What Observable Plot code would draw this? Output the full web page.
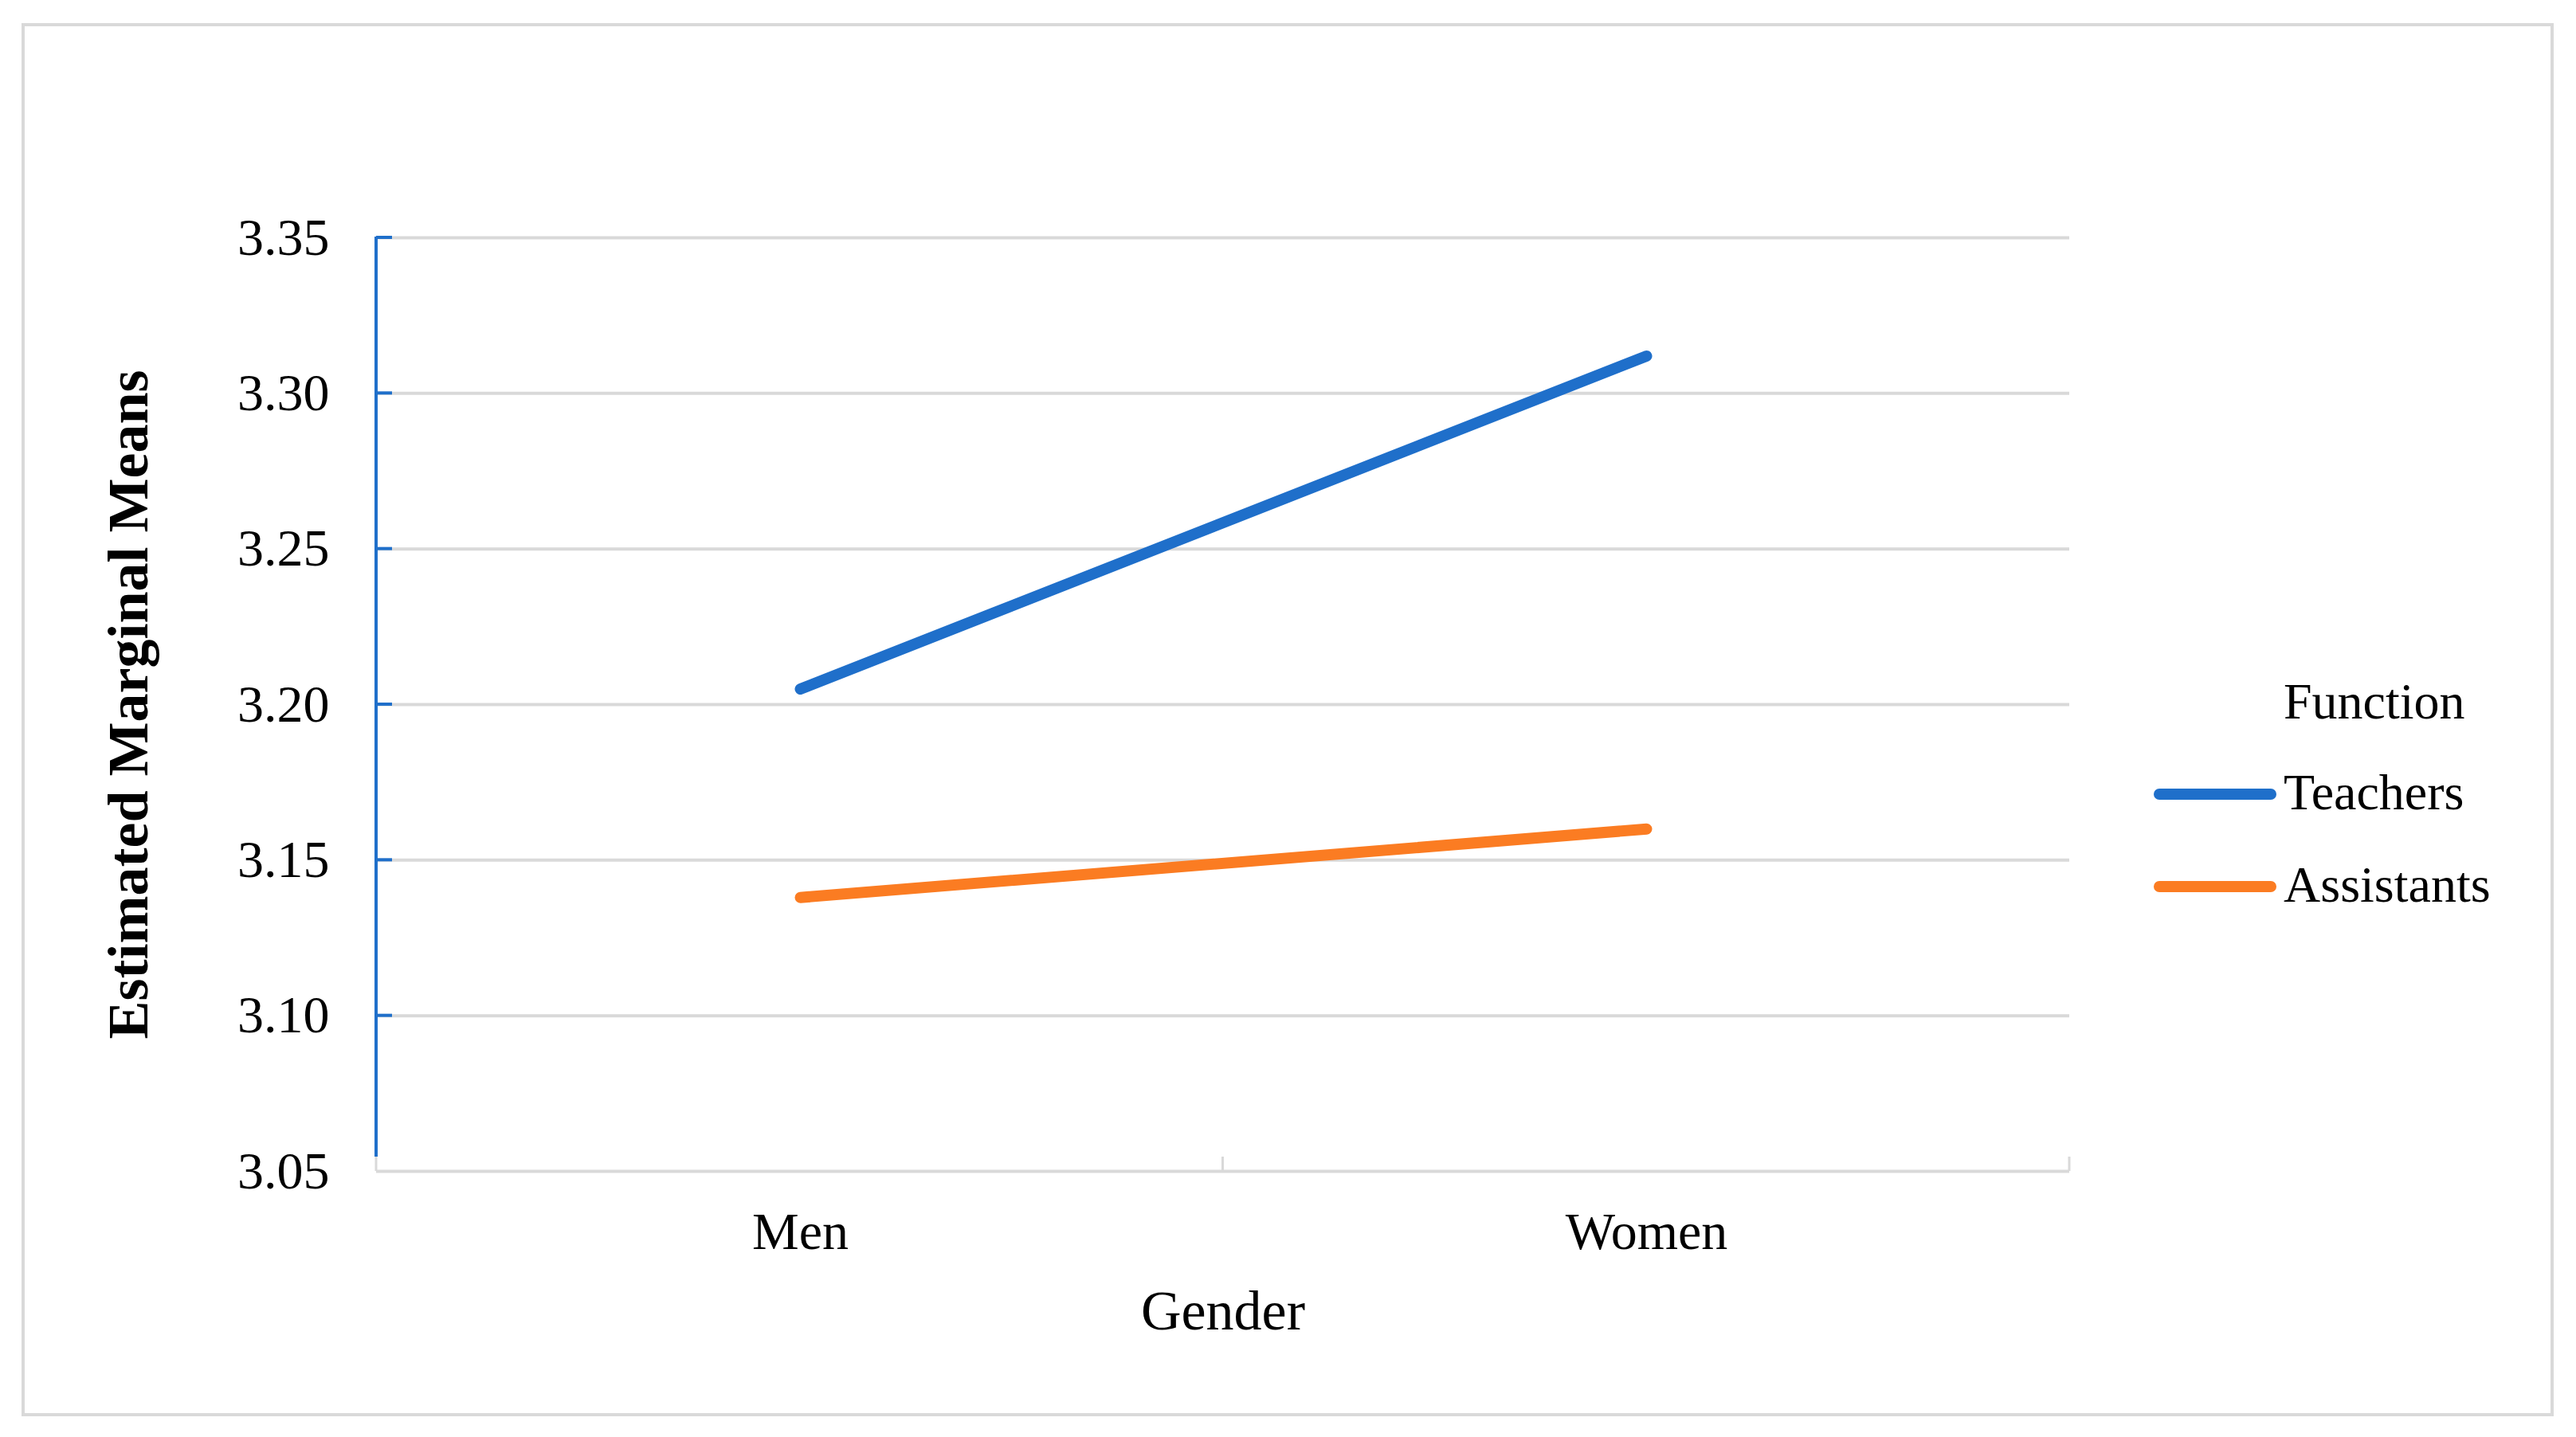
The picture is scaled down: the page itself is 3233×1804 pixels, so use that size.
<!DOCTYPE html>
<html>
<head>
<meta charset="utf-8">
<script src="https://cdn.jsdelivr.net/npm/d3@7"></script>
<script src="https://cdn.jsdelivr.net/npm/@observablehq/plot@0.6"></script>
<style>
  html, body { margin: 0; padding: 0; background: #fff; }
  #wrap { position: relative; width: 3233px; height: 1804px; background: #fff; overflow: hidden; }
  #border { position: absolute; left: 27px; top: 29px; width: 3178px; height: 1749px; box-sizing: border-box; border: 4px solid #d9d9d9; }
  #chart { position: absolute; left: 0; top: 0; }
  #legend { position: absolute; left: 0; top: 0; pointer-events: none; }
</style>
</head>
<body>
<div id="wrap">
  <div id="border"></div>
  <div id="chart"></div>
  <svg id="legend" width="3233" height="1804"></svg>
</div>
<script>
// ---- data ----
const genders = ["Men", "Women"];
const seriesNames = ["Teachers", "Assistants"];
const teachers = [3.205, 3.312];
const assistants = [3.138, 3.160];
const yTicks = [3.05, 3.10, 3.15, 3.20, 3.25, 3.30, 3.35];
const colors = ["#1f6fca", "#fb7c22"];
const xTitle = "Gender";
const yTitle = "Estimated Marginal Means";
const legendTitle = "Function";

const rows = [];
[teachers, assistants].forEach((vals, s) => {
  genders.forEach((g, i) => rows.push({gender: g, series: seriesNames[s], value: vals[i]}));
});

const FONT = "'Liberation Serif', 'Times New Roman', serif";
const GRID = "#d9d9d9";

// decorations drawn from the scales: blue y axis line with inward ticks, x-axis band-edge ticks
function decor(index, scales, values, dims) {
  const g = d3.create("svg:g");
  const x0 = dims.marginLeft, x1 = dims.width - dims.marginRight;
  const yt = dims.marginTop, yb = dims.height - dims.marginBottom;
  const n = genders.length;
  for (let k = 0; k <= n; k++) {
    const x = x0 + k * (x1 - x0) / n;
    g.append("line").attr("x1", x).attr("x2", x).attr("y1", yb - 18).attr("y2", yb)
      .attr("stroke", GRID).attr("stroke-width", 3);
  }
  g.append("line").attr("x1", x0).attr("x2", x0).attr("y1", yt - 1).attr("y2", yb - 18)
    .attr("stroke", colors[0]).attr("stroke-width", 4);
  yTicks.forEach(v => {
    const y = scales.y(v);
    if (Math.abs(y - yb) < 1) return;
    g.append("line").attr("x1", x0).attr("x2", x0 + 20).attr("y1", y).attr("y2", y)
      .attr("stroke", colors[0]).attr("stroke-width", 4);
  });
  return g.node();
}

const chart = Plot.plot({
  width: 3233,
  height: 1804,
  marginLeft: 472,
  marginRight: 636,
  marginTop: 298,
  marginBottom: 334,
  style: {background: "transparent", fontFamily: FONT, fontSize: "66px", color: "#000"},
  x: {type: "band", domain: genders, padding: 0, tickSize: 0, tickPadding: 51, label: null},
  y: {domain: [3.05, 3.35], ticks: yTicks, tickFormat: d3.format(".2f"), tickSize: 0, tickPadding: 59, label: null},
  color: {domain: seriesNames, range: colors},
  marks: [
    Plot.ruleY(yTicks, {stroke: GRID, strokeWidth: 4}),
    decor,
    Plot.line(rows, {x: "gender", y: "value", z: "series", stroke: "series", strokeWidth: 14, strokeLinecap: "round", strokeLinejoin: "round"}),
    Plot.text([xTitle], {frameAnchor: "bottom", lineAnchor: "bottom", dy: 198, fontSize: 70, fill: "#000"}),
    Plot.text([yTitle], {frameAnchor: "left", textAnchor: "middle", lineAnchor: "middle", rotate: -90, dx: -311, fontSize: 72, fontWeight: "bold", fill: "#000"})
  ]
});
document.getElementById("chart").appendChild(chart);

// legend
const leg = d3.select("#legend");
leg.append("text").attr("x", 2866).attr("y", 902).attr("font-family", FONT).attr("font-size", 64).attr("fill", "#000").text(legendTitle);
const legY = [997, 1113];
seriesNames.forEach((s, i) => {
  leg.append("line").attr("x1", 2710).attr("x2", 2850).attr("y1", legY[i]).attr("y2", legY[i])
    .attr("stroke", colors[i]).attr("stroke-width", 14).attr("stroke-linecap", "round");
  leg.append("text").attr("x", 2866).attr("y", legY[i] + 19).attr("font-family", FONT).attr("font-size", 64)
    .attr("fill", "#000").text(s);
});
</script>
</body>
</html>
